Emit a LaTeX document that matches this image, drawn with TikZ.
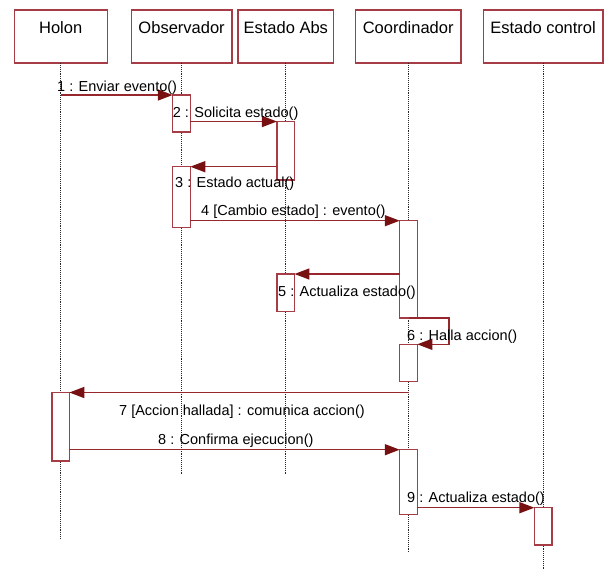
\documentclass[tikz,border=0pt]{standalone}
\usepackage{fontspec}
\setmainfont{Liberation Sans}
\usetikzlibrary{arrows.meta}
\definecolor{boxc}{RGB}{165,60,70}
\definecolor{linec}{RGB}{150,40,45}
\definecolor{tipc}{RGB}{120,16,18}
\definecolor{lifec}{RGB}{40,40,40}
\tikzset{
  head/.style={draw=boxc, line width=1.4pt, fill=white, inner sep=0pt, outer sep=0pt,
    minimum height=53pt, text height=23pt, text depth=30pt,
    font=\fontsize{16.5}{18}\selectfont},
  life/.style={draw=lifec, line width=0.9pt, densely dotted},
  act/.style={draw=boxc, line width=1.4pt, fill=white, inner sep=0pt, outer sep=0pt, minimum width=17.5pt},
  msg/.style={draw=linec, line width=1.5pt, -{Triangle[length=15pt,width=11pt,color=tipc,fill=tipc]}},
  lbl/.style={anchor=west, inner sep=0pt, font=\fontsize{14.5}{16}\selectfont}
}
\begin{document}
\begin{tikzpicture}[x=1pt,y=-1pt]
\useasboundingbox (0,0) rectangle (604,570);
% headers
\node[head, minimum width=93pt]  (H) at (60.7,36.5) {Holon};
\node[head, minimum width=100.5pt] (O) at (181.6,36.5) {Observador};
\node[head, minimum width=95.6pt] (E) at (285.8,36.5) {Estado Abs};
\node[head, minimum width=105.5pt] (C) at (408.2,36.5) {Coordinador};
\node[head, minimum width=119.4pt] (S) at (543.1,36.5) {Estado control};
% lifeline ends
\coordinate (Hend) at (60.7,539);
\coordinate (Oend) at (181.6,474);
\coordinate (Eend) at (285.8,474);
\coordinate (Cend) at (408.2,551.7);
\coordinate (Send) at (543.1,570);
\draw[life] (H.south) -- (Hend);
\draw[life] (O.south) -- (Oend);
\draw[life] (E.south) -- (Eend);
\draw[life] (C.south) -- (Cend);
\draw[life] (S.south) -- (Send);
% activations
\node[act, minimum height=37pt]   (oA1) at (181.5,113.5) {};
\node[act, minimum height=58.5pt] (eA1) at (285.7,150.75) {};
\node[act, minimum height=60.6pt] (oA2) at (181.5,197) {};
\node[act, minimum height=97.3pt] (cA1) at (408.5,269.35) {};
\node[act, minimum height=37.3pt] (eA2) at (285.7,292.65) {};
\node[act, minimum height=37.4pt] (cA2) at (408.5,363) {};
\node[act, minimum height=68.5pt] (hA1) at (60.6,426.75) {};
\node[act, minimum height=64.8pt] (cA3) at (408.5,482.1) {};
\node[act, minimum height=37.3pt] (sA1) at (543.1,526.35) {};
% messages
\draw[msg] (H.south |- oA1.north) -- (oA1.north west);
\draw[msg] (oA1.east |- eA1.north) -- (eA1.north west);
\draw[msg] (eA1.west |- oA2.north) -- (oA2.north east);
\draw[msg] (oA2.east |- cA1.north) -- (cA1.north west);
\draw[msg] (cA1.west |- eA2.north) -- (eA2.north east);
\draw[msg] (cA1.south) -- ++(40.7,0) |- (cA2.north east);
\draw[msg] (cA2.south |- hA1.north) -- (hA1.north east);
\draw[msg] (hA1.east |- cA3.north) -- (cA3.north west);
\draw[msg] (cA3.east |- sA1.north) -- (sA1.north west);
% labels
\node[lbl] (l1) at (57,88) {1 : Enviar evento()};
\node[lbl] (l2) at (172.7,114) {2 : Solicita estado()};
\node[lbl] (l3) at (175,184) {3 : Estado actual()};
\node[lbl] (l4) at (201,212) {4 [Cambio estado] : evento()};
\node[lbl] (l5) at (278,293) {5 : Actualiza estado()};
\node[lbl] (l6) at (407,337) {6 : Halla accion()};
\node[lbl] (l7) at (119,412) {7 [Accion hallada] : comunica accion()};
\node[lbl] (l8) at (158,441) {8 : Confirma ejecucion()};
\node[lbl] (l9) at (407,499) {9 : Actualiza estado()};
\end{tikzpicture}
\end{document}
